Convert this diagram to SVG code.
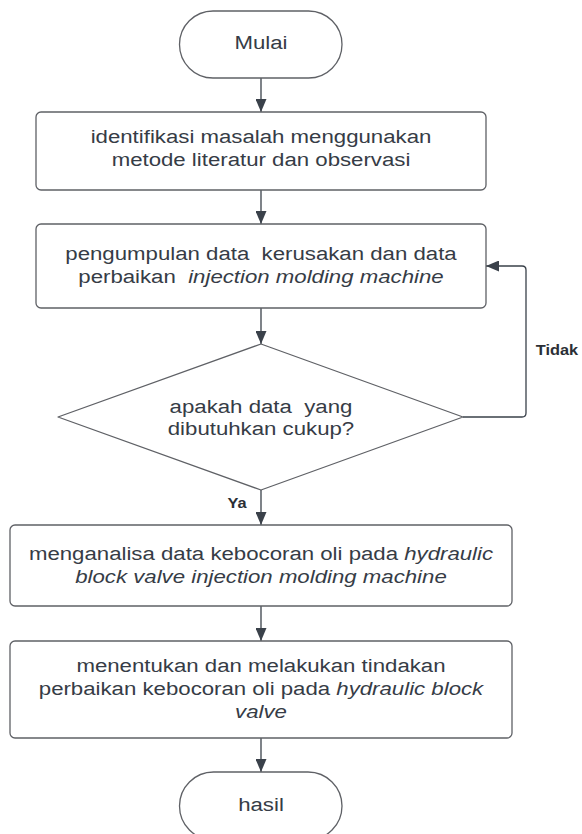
<svg xmlns="http://www.w3.org/2000/svg" width="582" height="834" viewBox="0 0 582 834">
<style>
.shape{fill:#ffffff;stroke:#5f6166;stroke-width:1.3}
.conn{fill:none;stroke:#3a414a;stroke-width:1.3}
.t{font-family:"Liberation Sans",Arial,sans-serif;font-size:19px;fill:#363c46;text-anchor:middle;white-space:pre}
.i{font-style:italic}
.lbl{font-family:"Liberation Sans",Arial,sans-serif;font-size:14px;font-weight:bold;fill:#2b2f36;text-anchor:middle}
</style>
<defs>
<marker id="arr" markerUnits="userSpaceOnUse" markerWidth="13" markerHeight="11" refX="13" refY="5.5" orient="auto">
<path d="M0,0 L13,5.5 L0,11 z" fill="#3a414a"/>
</marker>
</defs>
<rect width="582" height="834" fill="#ffffff"/>
<g id="connectors">
<line class="conn" x1="261" y1="78" x2="261" y2="112" marker-end="url(#arr)"/>
<line class="conn" x1="261" y1="190" x2="261" y2="224" marker-end="url(#arr)"/>
<line class="conn" x1="261" y1="308" x2="261" y2="344" marker-end="url(#arr)"/>
<path class="conn" d="M463,417 H522 Q526,417 526,413 V270 Q526,266 522,266 H486" marker-end="url(#arr)"/>
<line class="conn" x1="261" y1="490" x2="261" y2="525" marker-end="url(#arr)"/>
<line class="conn" x1="261" y1="606" x2="261" y2="641" marker-end="url(#arr)"/>
<line class="conn" x1="261" y1="738" x2="261" y2="772" marker-end="url(#arr)"/>
<g transform="translate(557 0) scale(1.17 1) translate(-557 0)"><text class="lbl" x="557" y="355">Tidak</text></g>
<g transform="translate(237 0) scale(1.17 1) translate(-237 0)"><text class="lbl" x="237" y="508">Ya</text></g>
</g>
<g id="start">
<rect class="shape" x="179.5" y="11" width="162.5" height="67" rx="33.5"/>
<g transform="translate(261 0) scale(1.17 1) translate(-261 0)"><text class="t" x="261" y="49">Mulai</text></g>
</g>
<g id="identifikasi">
<rect class="shape" x="36" y="112" width="450" height="78" rx="5"/>
<g transform="translate(261 0) scale(1.17 1) translate(-261 0)">
<text class="t" x="261" y="143">identifikasi masalah menggunakan</text>
<text class="t" x="261" y="166">metode literatur dan observasi</text>
</g>
</g>
<g id="pengumpulan">
<rect class="shape" x="36" y="224" width="450" height="84" rx="5"/>
<g transform="translate(261 0) scale(1.17 1) translate(-261 0)">
<text class="t" x="261" y="260">pengumpulan data  kerusakan dan data</text>
<text class="t" x="261" y="283">perbaikan  <tspan class="i">injection molding machine</tspan></text>
</g>
</g>
<g id="keputusan">
<path class="shape" d="M261,344 L463,417 L261,490 L58,417 Z" stroke-linejoin="round"/>
<g transform="translate(261 0) scale(1.17 1) translate(-261 0)">
<text class="t" x="261" y="413">apakah data  yang</text>
<text class="t" x="261" y="435">dibutuhkan cukup?</text>
</g>
</g>
<g id="menganalisa">
<rect class="shape" x="10" y="525" width="502" height="81" rx="5"/>
<g transform="translate(261 0) scale(1.17 1) translate(-261 0)">
<text class="t" x="261" y="560">menganalisa data kebocoran oli pada <tspan class="i">hydraulic</tspan></text>
<text class="t i" x="261" y="583">block valve injection molding machine</text>
</g>
</g>
<g id="menentukan">
<rect class="shape" x="10" y="641" width="502" height="97" rx="5"/>
<g transform="translate(261 0) scale(1.17 1) translate(-261 0)">
<text class="t" x="261" y="672">menentukan dan melakukan tindakan</text>
<text class="t" x="261" y="695">perbaikan kebocoran oli pada <tspan class="i">hydraulic block</tspan></text>
<text class="t i" x="261" y="718">valve</text>
</g>
</g>
<g id="hasil">
<rect class="shape" x="179.5" y="772" width="162.5" height="68" rx="34"/>
<g transform="translate(261 0) scale(1.17 1) translate(-261 0)"><text class="t" x="261" y="811">hasil</text></g>
</g>
</svg>
